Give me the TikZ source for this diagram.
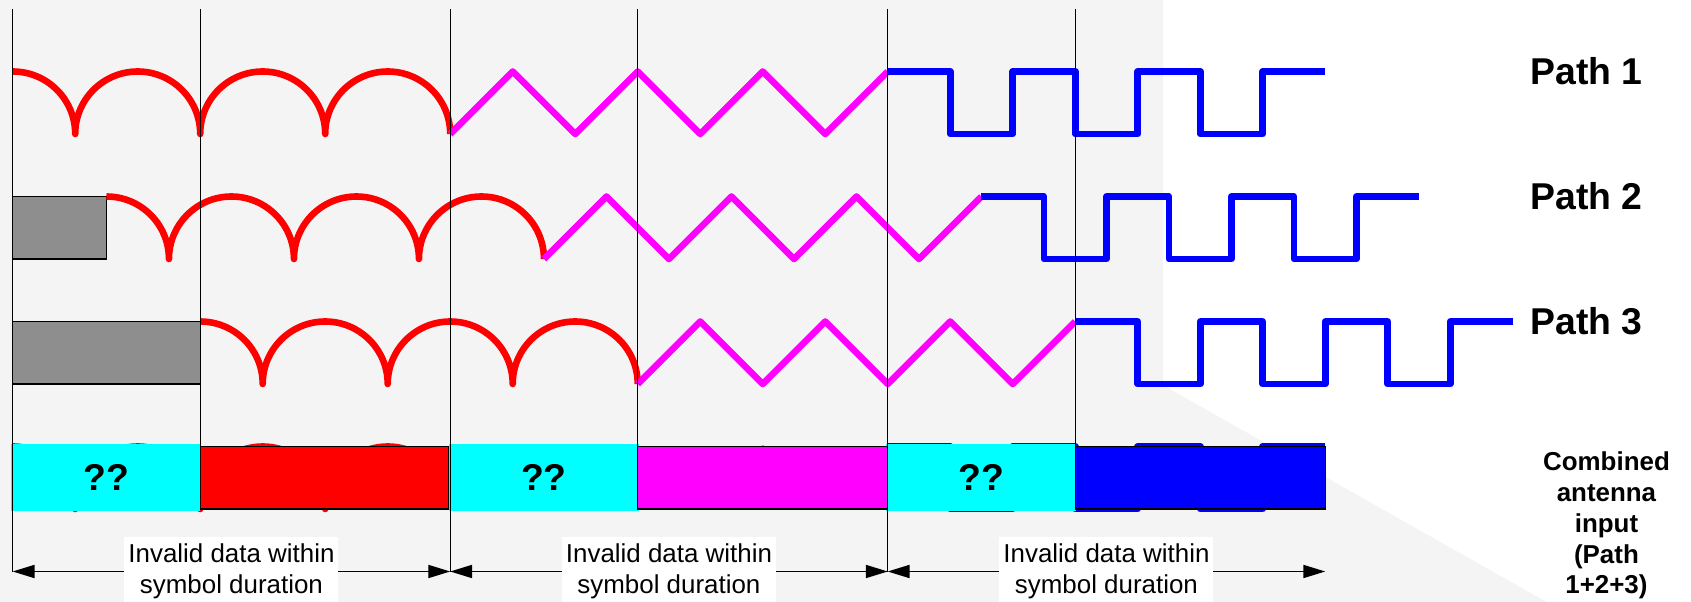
\documentclass[tikz,border=0pt]{standalone}
\usepackage{fontspec}
\setmainfont{Liberation Sans}
\usetikzlibrary{arrows.meta}
\definecolor{panel}{HTML}{F4F4F4}
\definecolor{hatch}{HTML}{8E8E8E}
\definecolor{wred}{RGB}{255,0,0}
\definecolor{wmag}{RGB}{255,0,255}
\definecolor{wblue}{RGB}{0,0,255}
\definecolor{wcyan}{RGB}{0,255,255}

% one symbol sequence: arcs, then triangles, then square wave
\newcommand{\symwave}[3]{%
  \draw[arcwave] (#1,#2) arc[start angle=90,end angle=0,radius=1]
    \foreach \k in {1,2,3} {arc[start angle=180,end angle=0,radius=1]};
  \draw[#3] (#1+7,#2-1) \foreach \k in {1,2,3} {-- ++(1,1) -- ++(1,-1)} -- ++(1,1);
  \draw[sqwave] (#1+14,#2) \foreach \k in {1,2,3} {-- ++(1,0) -- ++(0,-1) -- ++(1,0) -- ++(0,1)} -- ++(1,0);
}

\begin{document}
\begin{tikzpicture}[
  wave/.style={line width=3pt,line join=round},
  arcwave/.style={wave,wred},
  triwave/.style={wave,wmag},
  sqwave/.style={wave,wblue},
  thinwave/.style={line width=1pt,black,line join=round},
  delaybox/.style={fill=hatch,draw=black,line width=0.5pt},
  unknown/.style={fill=wcyan},
  block/.style={draw=black,line width=0.5pt},
  tick/.style={line width=0.6pt},
  durarrow/.style={<->,>={Triangle[length=3.5mm,width=2.1mm]},line width=0.6pt},
  pathlbl/.style={font=\fontsize{17}{20}\selectfont\bfseries,inner sep=0pt,anchor=west},
  qlbl/.style={font=\fontsize{17}{20}\selectfont\bfseries,inner sep=0pt},
  durlbl/.style={fill=white,align=center,font=\fontsize{11.8}{14.1}\selectfont,inner xsep=1.8pt,inner ysep=3pt},
  comblbl/.style={font=\fontsize{11.8}{14}\selectfont\bfseries,align=center,inner sep=0pt}]

  \useasboundingbox (-0.2032,-8.488) rectangle (26.8528,1.144);
  \fill[white] (-0.2032,-8.488) rectangle (26.8528,1.144);
  \fill[panel] (-0.2032,1.144) -- (18.405,1.144) -- (18.405,-5.02) -- (24.54,-8.488) -- (-0.2032,-8.488) -- cycle;

  % delayed paths
  \draw[delaybox] (0,-2) rectangle (1.5,-3);
  \draw[delaybox] (0,-4) rectangle (3,-5);
  \symwave{0}{0}{triwave}
  \symwave{1.5}{-2}{triwave}
  \symwave{3}{-4}{triwave}

  % sum at the antenna
  \symwave{0}{-6}{thinwave}
  \fill[unknown] (-0.02,-5.957) rectangle (3,-7.035);
  \fill[unknown] (6.98,-5.957) rectangle (10.02,-7.035);
  \fill[unknown] (13.98,-5.957) rectangle (17.02,-7.035);
  \draw[block,fill=wred] (3,-6) rectangle (6.97,-7);
  \draw[block,fill=wmag] (10,-6) rectangle (13.99,-7);
  \draw[block,fill=wblue] (17,-6) rectangle (21,-7);
  \node[qlbl] (q1) at (1.5,-6.5) {??};
  \node[qlbl] (q2) at (8.5,-6.5) {??};
  \node[qlbl] (q3) at (15.5,-6.5) {??};

  \foreach \x in {0,7,14} \draw[tick] (\x,1) -- (\x,-8);
  \foreach \x in {3,10,17} \draw[tick] (\x,1) -- (\x,-7);

  \coordinate (s0) at (0,-8);
  \coordinate (s7) at (7,-8);
  \coordinate (s14) at (14,-8);
  \coordinate (s21) at (21,-8);
  \draw[durarrow] (s0) -- node[durlbl] (d1) {Invalid data within\\symbol duration} (s7);
  \draw[durarrow] (s7) -- node[durlbl] (d2) {Invalid data within\\symbol duration} (s14);
  \draw[durarrow] (s14) -- node[durlbl] (d3) {Invalid data within\\symbol duration} (s21);

  \node[pathlbl] (p1) at (24.28,0) {Path 1};
  \node[pathlbl] (p2) at (24.28,-2) {Path 2};
  \node[pathlbl] (p3) at (24.28,-4) {Path 3};
  \node[comblbl,anchor=north] (comb) at (25.5,-6.083) {Combined\\antenna\\input\\(Path\\1+2+3)};
\end{tikzpicture}
\end{document}
